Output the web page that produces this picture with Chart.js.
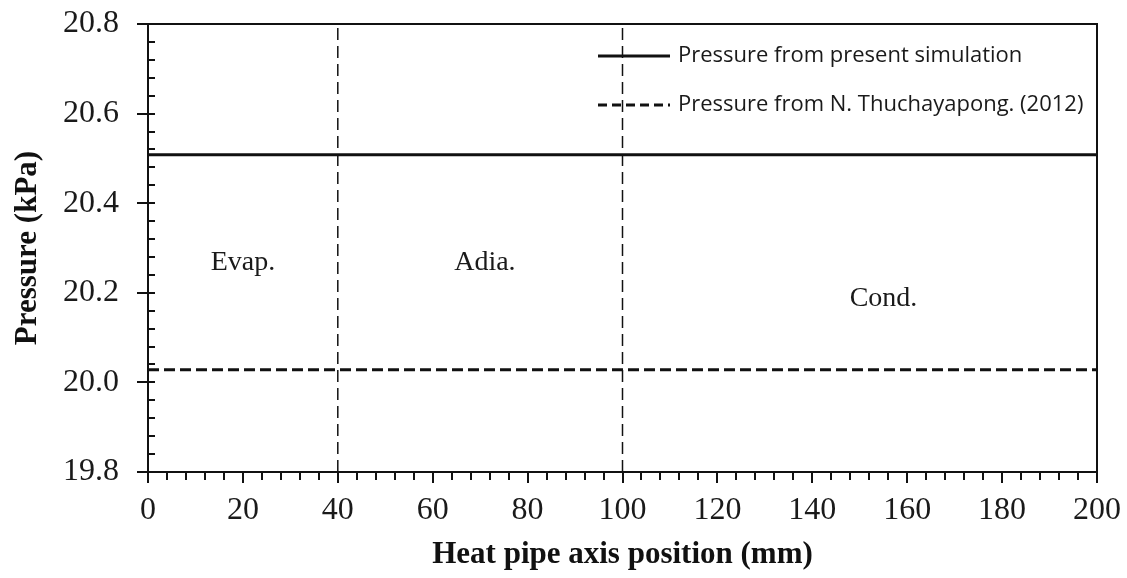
<!DOCTYPE html>
<html>
<head>
<meta charset="utf-8">
<script src="https://cdn.jsdelivr.net/npm/chart.js@4.4.1/dist/chart.umd.min.js"></script>
<style>
    html, body { margin: 0; padding: 0; background: #fff; }
    #contenedor { width: 1127px; height: 578px; }
</style>
</head>
<body>
<div id="contenedor"><canvas id="grafica"></canvas></div>
<script>
// datos
const posicionX = [0, 200];
const presionSimulacion = [20.508, 20.508];
const presionThuchayapong = [20.028, 20.028];
const divisiones = [40, 100];
const regiones = ['Evap.', 'Adia.', 'Cond.'];
const regionesX = [20, 71, 155];
const regionesY = [20.268, 20.268, 20.186];
const ticksX = [0, 20, 40, 60, 80, 100, 120, 140, 160, 180, 200];
const ticksY = [19.8, 20.0, 20.2, 20.4, 20.6, 20.8];
const leyendas = ['Pressure from present simulation', 'Pressure from N. Thuchayapong. (2012)'];

const negro = '#111';
const serif = "'Liberation Serif', 'Times New Roman', serif";

function puntos(xs, ys) {
    return xs.map((x, i) => ({ x: x, y: ys[i] }));
}

const datasets = [
    {
        label: leyendas[0],
        data: puntos(posicionX, presionSimulacion),
        borderColor: negro,
        borderWidth: 3,
        showLine: true,
        pointRadius: 0
    },
    {
        label: leyendas[1],
        data: puntos(posicionX, presionThuchayapong),
        borderColor: negro,
        borderWidth: 3,
        borderDash: [11, 5],
        showLine: true,
        pointRadius: 0
    }
];

divisiones.forEach(d => {
    datasets.push({
        label: 'division',
        data: puntos([d, d], [ticksY[0], ticksY[ticksY.length - 1]]),
        borderColor: negro,
        borderWidth: 1.5,
        borderDash: [12, 6],
        showLine: true,
        pointRadius: 0
    });
});

// ticks menores, marco y textos dentro de la grafica
const extras = {
    id: 'extras',
    afterDraw(chart) {
        const { ctx, chartArea, scales } = chart;
        const x = scales.x;
        const y = scales.y;
        ctx.save();
        ctx.strokeStyle = negro;
        ctx.lineWidth = 2;

        ctx.beginPath();
        // marco superior y derecho
        ctx.moveTo(chartArea.left - 11, chartArea.top);
        ctx.lineTo(chartArea.right, chartArea.top);
        ctx.lineTo(chartArea.right, chartArea.bottom);

        // ticks eje y
        for (let v = ticksY[0]; v <= ticksY[ticksY.length - 1] + 1e-9; v += 0.04) {
            const py = Math.round(y.getPixelForValue(v));
            const mayor = ticksY.some(t => Math.abs(t - v) < 1e-6);
            ctx.moveTo(chartArea.left - (mayor ? 11 : 0), py);
            ctx.lineTo(chartArea.left + 7, py);
        }
        // ticks eje x
        for (let v = ticksX[0]; v <= ticksX[ticksX.length - 1]; v += 4) {
            const px = Math.round(x.getPixelForValue(v));
            const mayor = ticksX.includes(v);
            ctx.moveTo(px, chartArea.bottom);
            ctx.lineTo(px, chartArea.bottom + (mayor ? 11 : 8));
        }
        ctx.stroke();

        // nombres de las regiones
        ctx.fillStyle = '#1a1a1a';
        ctx.font = '28px ' + serif;
        ctx.textAlign = 'center';
        ctx.textBaseline = 'middle';
        regiones.forEach((r, i) => {
            ctx.fillText(r, x.getPixelForValue(regionesX[i]), y.getPixelForValue(regionesY[i]));
        });

        // leyenda
        const inicio = chartArea.right - 499;
        const filas = [chartArea.top + 32, chartArea.top + 81];
        ctx.font = "22px 'Open Sans', 'Liberation Sans', sans-serif";
        ctx.textAlign = 'left';
        leyendas.forEach((texto, i) => {
            ctx.beginPath();
            ctx.lineWidth = 3;
            ctx.setLineDash(i === 0 ? [] : [9, 5]);
            ctx.moveTo(inicio, filas[i]);
            ctx.lineTo(inicio + 72, filas[i]);
            ctx.stroke();
            ctx.setLineDash([]);
            ctx.fillText(texto, inicio + 80, filas[i]);
        });
        ctx.restore();
    }
};

const ctx = document.getElementById('grafica');

const grafica = new Chart(ctx, {
    type: 'scatter',
    data: { datasets: datasets },
    options: {
        responsive: true,
        maintainAspectRatio: false,
        animation: false,
        layout: {
            padding: { top: 24, right: 30, bottom: 0, left: 0 }
        },
        plugins: {
            legend: { display: false },
            tooltip: { enabled: false }
        },
        scales: {
            x: {
                type: 'linear',
                min: 0,
                max: 200,
                grid: { display: false, drawTicks: true, tickLength: 23 },
                border: { display: true, color: negro, width: 2 },
                afterFit: (scale) => { scale.height = 106; },
                afterBuildTicks: (scale) => { scale.ticks = ticksX.map(v => ({ value: v })); },
                ticks: {
                    padding: 0,
                    color: '#1a1a1a',
                    maxRotation: 0,
                    autoSkip: false,
                    font: { family: serif, size: 32, lineHeight: 1 }
                },
                title: {
                    display: true,
                    text: 'Heat pipe axis position (mm)',
                    color: '#111',
                    padding: { top: 0, bottom: 8 },
                    font: { family: serif, size: 31, weight: 'bold', lineHeight: 1 }
                }
            },
            y: {
                type: 'linear',
                min: 19.8,
                max: 20.8,
                grid: { display: false, drawTicks: true, tickLength: 29 },
                border: { display: true, color: negro, width: 2 },
                afterFit: (scale) => { scale.width = 148; },
                afterBuildTicks: (scale) => { scale.ticks = ticksY.map(v => ({ value: v })); },
                ticks: {
                    padding: 0,
                    color: '#1a1a1a',
                    autoSkip: false,
                    font: { family: serif, size: 32, lineHeight: 1 },
                    callback: (v) => Number(v).toFixed(1)
                },
                title: {
                    display: true,
                    text: 'Pressure (kPa)',
                    color: '#111',
                    padding: { top: 12, bottom: 0 },
                    font: { family: serif, size: 31, weight: 'bold', lineHeight: 1 }
                }
            }
        }
    },
    plugins: [extras]
});
</script>
</body>
</html>
